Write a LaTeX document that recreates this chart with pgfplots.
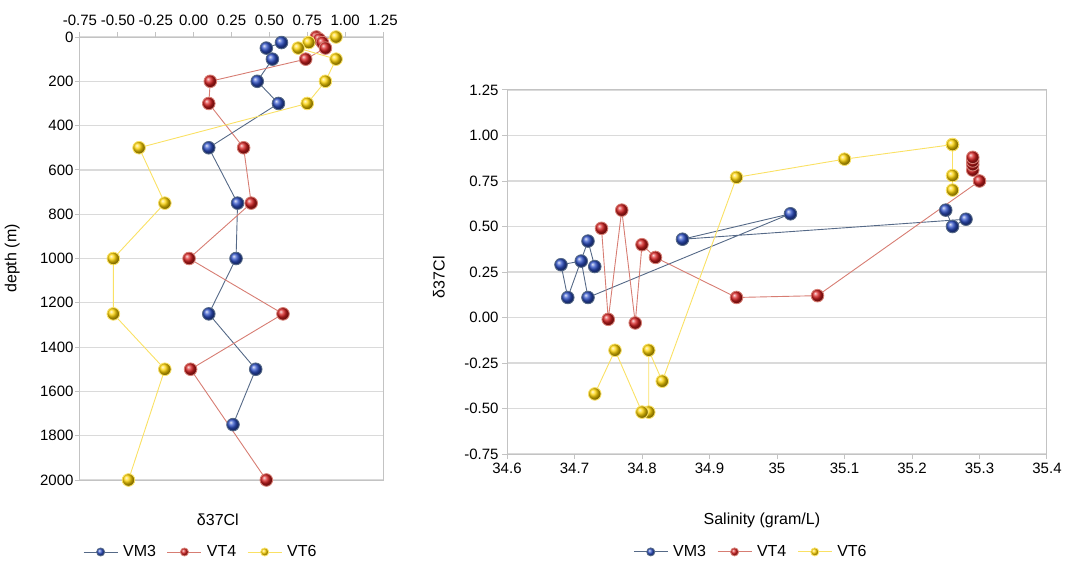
\documentclass[border=0pt]{standalone}
\usepackage{fontspec}
\setmainfont{Liberation Sans}
\usepackage{pgfplots}
\pgfplotsset{compat=1.18}
\definecolor{cblue}{RGB}{45,80,200}
\definecolor{cred}{RGB}{215,30,30}
\definecolor{cyel}{RGB}{255,212,0}
\definecolor{lblue}{RGB}{85,105,135}
\definecolor{lred}{RGB}{215,125,115}
\definecolor{lyel}{RGB}{250,225,100}
\definecolor{gridc}{RGB}{218,218,218}
\definecolor{axc}{RGB}{195,195,195}
\begin{document}
\begin{tikzpicture}
\useasboundingbox (0pt,0pt) rectangle (1069pt,-569pt);
\pgfplotsset{
  myax/.style={
    scale only axis,
    axis line style={axc, line width=1pt},
    tick style={axc, line width=1pt},
    tick align=outside,
    major tick length=5pt,
    ymajorgrids, grid style={gridc, line width=1.2pt},
    tick label style={font=\fontsize{15}{17}\selectfont},
    label style={font=\fontsize{16}{18}\selectfont},
    /pgf/number format/assume math mode=true,
    clip=false,
    legend columns=3,
    legend style={draw=none, fill=none, font=\fontsize{16}{18}\selectfont,
      /tikz/every odd column/.append style={column sep=3pt},
      /tikz/every even column/.append style={column sep=9pt}},
    legend image code/.code={\draw[##1, mark=none] (0pt,0pt) -- (34pt,0pt); \draw[##1, mark size=4pt] plot coordinates {(17pt,0pt)};},
  },
  ser/.style={line width=0.9pt, mark=ball, mark size=6.3pt, mark options={ball color=#1}},
}
% ---------- left ----------
\begin{axis}[myax, at={(80pt,-480pt)}, anchor=south west, width=303pt, height=443pt,
  xmin=-0.75, xmax=1.25, ymin=0, ymax=2000, y dir=reverse,
  xtick={-0.75,-0.5,-0.25,0,0.25,0.5,0.75,1,1.25},
  ytick={0,200,400,600,800,1000,1200,1400,1600,1800,2000},
  xtick pos=right, xticklabel pos=right, ytick pos=left,
  xticklabel style={yshift=3pt, /pgf/number format/.cd, fixed, fixed zerofill, precision=2},
  yticklabel style={xshift=2pt, /pgf/number format/.cd, 1000 sep={}},
  xlabel={δ37Cl}, ylabel={depth (m)},
  xlabel style={at={(axis description cs:0.455,-0.09)}, anchor=center},
  ylabel style={at={(axis description cs:-0.224,0.5)}, anchor=center},
  legend style={at={(axis description cs:0.0,-0.1625)}, anchor=west},
]
\addplot[lblue, ser=cblue] coordinates {(0.58,25)(0.48,50)(0.52,100)(0.42,200)(0.56,300)(0.10,500)(0.29,750)(0.28,1000)(0.10,1250)(0.41,1500)(0.26,1750)};
\addlegendentry{VM3}
\addplot[lred, ser=cred] coordinates {(0.81,0)(0.83,10)(0.85,25)(0.87,50)(0.74,100)(0.11,200)(0.10,300)(0.33,500)(0.38,750)(-0.03,1000)(0.59,1250)(-0.02,1500)(0.48,2000)};
\addlegendentry{VT4}
\addplot[lyel, ser=cyel] coordinates {(0.94,0)(0.76,25)(0.69,50)(0.94,100)(0.87,200)(0.75,300)(-0.36,500)(-0.19,750)(-0.53,1000)(-0.53,1250)(-0.19,1500)(-0.43,2000)};
\addlegendentry{VT6}
\end{axis}
% ---------- right ----------
\begin{axis}[myax, at={(507pt,-454pt)}, anchor=south west, width=540pt, height=364pt,
  xmin=34.6, xmax=35.4, ymin=-0.75, ymax=1.25,
  xtick={34.6,34.7,34.8,34.9,35,35.1,35.2,35.3,35.4},
  xticklabels={34.6,34.7,34.8,34.9,35,35.1,35.2,35.3,35.4},
  ytick={-0.75,-0.5,-0.25,0,0.25,0.5,0.75,1,1.25},
  xtick pos=left, ytick pos=left,
  yticklabel style={/pgf/number format/.cd, fixed, fixed zerofill, precision=2},
  xlabel={Salinity (gram/L)}, ylabel={δ37Cl},
  xlabel style={at={(axis description cs:0.472,-0.181)}, anchor=center},
  ylabel style={at={(axis description cs:-0.126,0.486)}, anchor=center},
  legend style={at={(axis description cs:0.228,-0.269)}, anchor=west},
]
\addplot[lblue, ser=cblue] coordinates {(35.25,0.59)(35.26,0.50)(35.28,0.54)(34.86,0.43)(35.02,0.57)(34.72,0.11)(34.71,0.31)(34.68,0.29)(34.69,0.11)(34.72,0.42)(34.73,0.28)};
\addlegendentry{VM3}
\addplot[lred, ser=cred] coordinates {(35.29,0.81)(35.29,0.84)(35.29,0.86)(35.29,0.88)(35.30,0.75)(35.06,0.12)(34.94,0.11)(34.82,0.33)(34.80,0.40)(34.79,-0.03)(34.77,0.59)(34.75,-0.01)(34.74,0.49)};
\addlegendentry{VT4}
\addplot[lyel, ser=cyel] coordinates {(35.26,0.95)(35.26,0.78)(35.26,0.70)(35.26,0.95)(35.10,0.87)(34.94,0.77)(34.83,-0.35)(34.81,-0.18)(34.81,-0.52)(34.80,-0.52)(34.76,-0.18)(34.73,-0.42)};
\addlegendentry{VT6}
\end{axis}
\end{tikzpicture}
\end{document}
